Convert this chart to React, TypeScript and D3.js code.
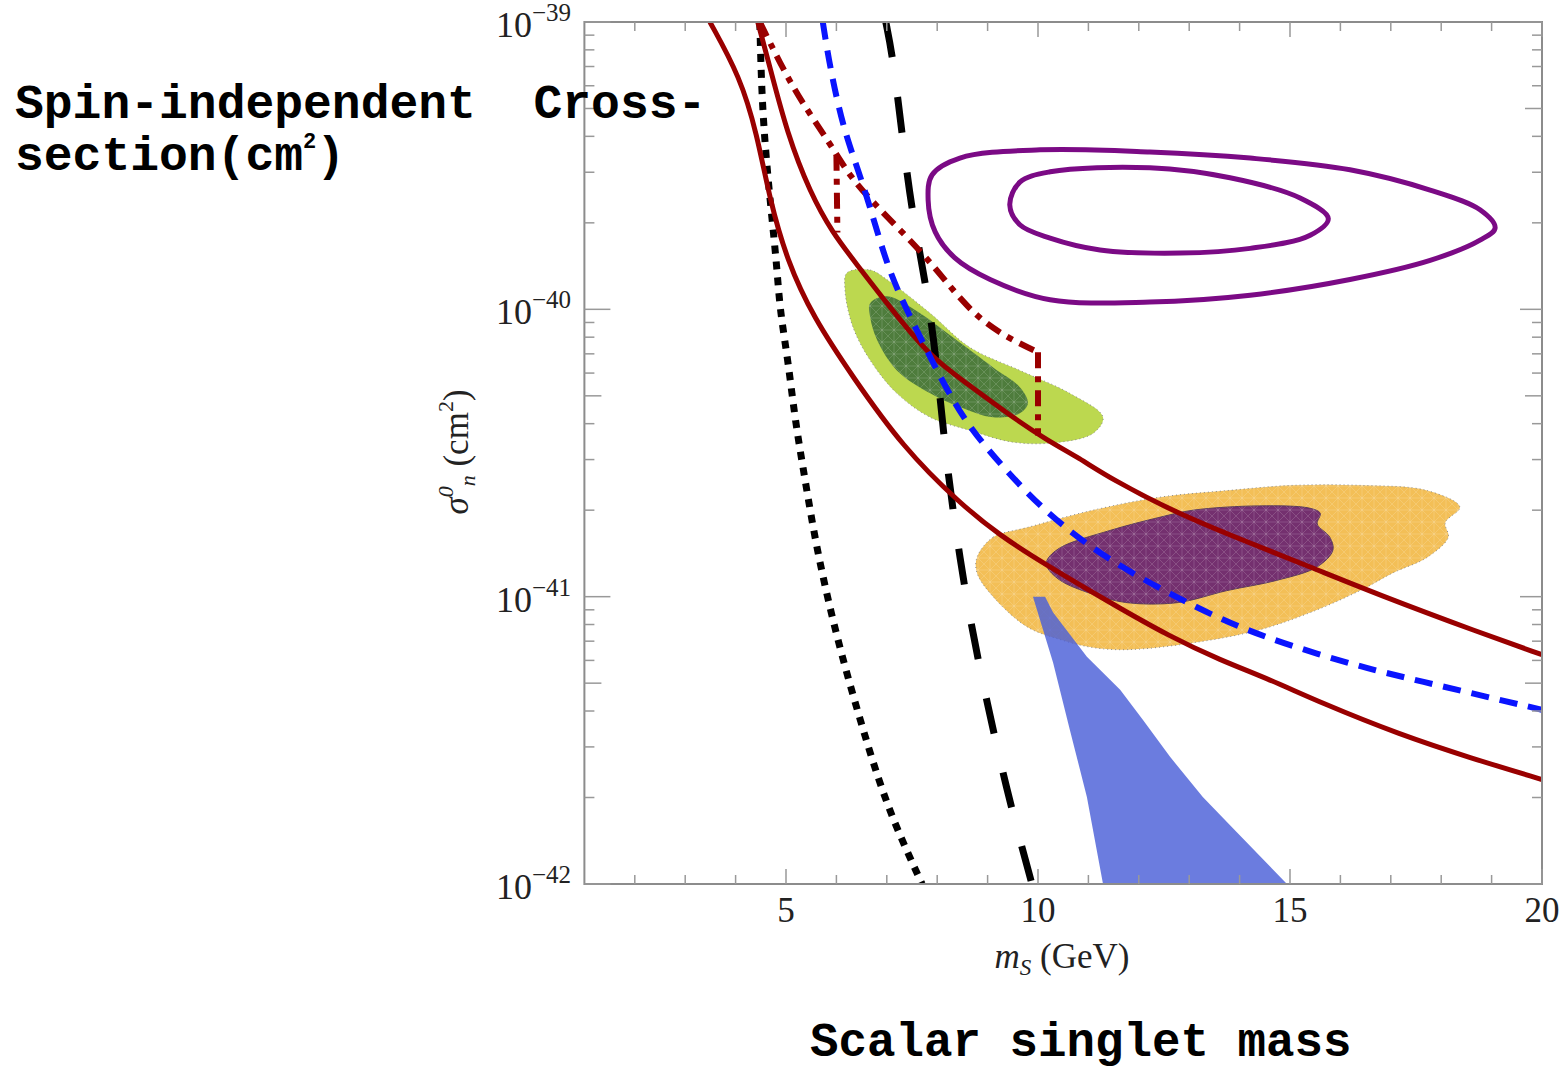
import * as d3 from "d3";

type Pt = [number, number];

// m_S (GeV), sigma_n (cm^2)
const dotted: Pt[] = [
  [4.48, 1.0e-39], [4.52, 5.36e-40], [4.62, 3.13e-40], [4.72, 2.09e-40], [4.82, 1.4e-40],
  [4.88, 9.9e-41], [5.04, 6.65e-41], [5.18, 4.11e-41], [5.38, 2.54e-41], [5.58, 1.57e-41],
  [5.83, 9.77e-42], [6.13, 6.02e-42], [6.47, 3.73e-42], [6.83, 2.31e-42], [7.2, 1.55e-42],
  [7.7, 1.0e-42],
];

const redLow: Pt[] = [
  [3.49, 1.0e-39], [4.09, 6.44e-40], [4.42, 4.11e-40], [4.68, 2.4e-40], [5.02, 1.48e-40],
  [5.54, 9.38e-41], [6.33, 5.8e-41], [7.32, 3.31e-41], [8.45, 2.11e-41], [9.25, 1.63e-41],
  [10.1, 1.31e-41], [11.43, 9.53e-42], [12.62, 7.26e-42], [13.61, 6.02e-42], [14.6, 5.15e-42],
  [15.6, 4.28e-42], [17.18, 3.31e-42], [18.57, 2.75e-42], [20.0, 2.31e-42],
];

const redHigh: Pt[] = [
  [4.44, 1.0e-39], [4.68, 6.98e-40], [5.02, 4.11e-40], [5.48, 2.54e-40], [5.93, 1.84e-40],
  [6.37, 1.46e-40], [7.0, 1.05e-40], [7.86, 6.81e-41], [8.59, 5.53e-41], [9.38, 4.35e-41],
  [10.18, 3.5e-41], [10.83, 3.03e-41], [11.43, 2.58e-41], [12.76, 1.95e-41], [14.07, 1.57e-41],
  [15.4, 1.27e-41], [16.73, 1.02e-41], [18.77, 7.49e-42], [20.0, 6.28e-42],
];

const dashDot: Pt[] = [
  [4.48, 1.0e-39], [4.88, 7.2e-40], [5.28, 5.36e-40], [5.87, 3.79e-40], [6.27, 2.89e-40],
  [6.81, 2.27e-40], [7.72, 1.57e-40], [8.25, 1.2e-40], [8.79, 9.38e-41], [9.38, 7.99e-41],
  [10.0, 7.09e-41],
];
const dashDotDrop: Pt[] = [[10.0, 7.09e-41], [10.0, 3.64e-41]];
const dashDotSpike: Pt[] = [[6.0, 3.45e-40], [6.02, 1.85e-40]];

const blueDashed: Pt[] = [
  [5.73, 1.0e-39], [5.87, 6.98e-40], [6.13, 4.31e-40], [6.41, 3.13e-40], [6.67, 2.27e-40],
  [7.02, 1.39e-40], [7.4, 9.9e-41], [7.86, 6.81e-41], [8.51, 4.11e-41], [9.31, 2.82e-41],
  [10.1, 2.0e-41], [11.29, 1.37e-41], [12.82, 9.77e-42], [13.95, 7.86e-42], [15.06, 6.7e-42],
  [16.39, 5.71e-42], [17.38, 5.18e-42], [20.0, 4.04e-42],
];

const blackDashed: Pt[] = [
  [6.98, 1.0e-39], [7.12, 7.56e-40], [7.3, 4.11e-40], [7.5, 2.16e-40], [7.8, 1.17e-40],
  [8.0, 6.28e-41], [8.15, 3.36e-41], [8.31, 2.0e-41], [8.55, 1.05e-41], [8.81, 6.02e-42],
  [9.15, 3.18e-42], [9.48, 1.81e-42], [9.88, 1.0e-42],
];

const purpleOuter: Pt[] = [
  [7.82, 2.4e-40], [7.9, 2.94e-40], [8.45, 3.36e-40], [10.04, 3.59e-40], [12.22, 3.53e-40],
  [14.21, 3.36e-40], [16.19, 3.06e-40], [17.78, 2.6e-40], [18.77, 2.22e-40], [19.07, 1.92e-40],
  [18.77, 1.74e-40], [17.78, 1.48e-40], [16.19, 1.27e-40], [14.21, 1.12e-40], [12.22, 1.06e-40],
  [10.24, 1.08e-40], [9.05, 1.27e-40], [8.35, 1.51e-40], [7.96, 1.86e-40],
];

const purpleInner: Pt[] = [
  [9.44, 2.31e-40], [9.64, 2.77e-40], [10.24, 3.01e-40], [12.22, 3.11e-40], [13.81, 2.87e-40],
  [15.2, 2.44e-40], [15.76, 2.07e-40], [15.4, 1.81e-40], [14.21, 1.63e-40], [12.82, 1.57e-40],
  [11.23, 1.61e-40], [10.24, 1.77e-40], [9.64, 1.97e-40],
];

const greenLight: Pt[] = [
  [6.21, 1.34e-40], [6.67, 1.37e-40], [7.0, 1.27e-40], [7.86, 9.69e-41], [8.65, 7.37e-41],
  [9.64, 6.13e-41], [10.63, 5.1e-41], [11.29, 4.21e-41], [11.09, 3.7e-41], [10.3, 3.43e-41],
  [9.5, 3.45e-41], [8.65, 3.79e-41], [7.86, 4.21e-41], [7.2, 5.1e-41], [6.67, 6.65e-41],
  [6.33, 8.66e-41], [6.17, 1.17e-40],
];

const greenDark: Pt[] = [
  [6.67, 1.05e-40], [7.0, 1.11e-40], [7.66, 9.69e-41], [8.31, 7.99e-41], [9.11, 6.28e-41],
  [9.64, 5.36e-41], [9.8, 4.71e-41], [9.64, 4.35e-41], [9.11, 4.21e-41], [8.45, 4.57e-41],
  [7.86, 5.1e-41], [7.2, 6.13e-41], [6.81, 7.8e-41], [6.67, 9.38e-41],
];

const orange: Pt[] = [
  [8.79, 1.37e-41], [9.11, 1.61e-41], [9.78, 1.74e-41], [11.09, 2.0e-41], [12.42, 2.22e-41],
  [13.75, 2.34e-41], [15.06, 2.44e-41], [16.39, 2.44e-41], [17.72, 2.34e-41], [18.37, 2.05e-41],
  [18.08, 1.81e-41], [18.14, 1.61e-41], [17.72, 1.37e-41], [17.04, 1.21e-41], [16.39, 1.05e-41],
  [15.4, 8.8e-42], [14.4, 7.67e-42], [13.08, 6.91e-42], [11.77, 6.54e-42], [11.09, 6.65e-42],
  [10.44, 7.09e-42], [9.78, 7.86e-42], [9.11, 1.0e-41], [8.79, 1.21e-41],
];

const purpleFill: Pt[] = [
  [10.18, 1.34e-41], [10.44, 1.48e-41], [11.43, 1.7e-41], [12.42, 1.89e-41], [13.08, 2.0e-41],
  [14.4, 2.07e-41], [15.4, 2.03e-41], [15.6, 1.95e-41], [15.54, 1.79e-41], [15.79, 1.61e-41],
  [15.85, 1.45e-41], [15.54, 1.27e-41], [14.74, 1.14e-41], [13.75, 1.05e-41], [12.76, 9.53e-42],
  [11.77, 9.53e-42], [11.09, 1.02e-41], [10.44, 1.14e-41], [10.18, 1.27e-41],
];

const blueRegion: Pt[] = [
  [9.9, 1.0e-41], [10.14, 1.0e-41], [10.3, 8.8e-42], [10.97, 6.18e-42], [11.63, 4.74e-42],
  [12.08, 3.73e-42], [12.62, 2.77e-42], [13.27, 2.01e-42], [13.95, 1.51e-42], [14.94, 1.0e-42],
  [11.29, 1.0e-42], [10.97, 2.01e-42], [10.63, 3.45e-42], [10.3, 5.89e-42],
];

const xMajor = [5, 10, 15, 20];
const xMinor = d3.range(2, 20).filter((v) => v % 5 !== 0);
const yDecades = [1e-42, 1e-41, 1e-40, 1e-39];
const yExpLabels = ["\u221242", "\u221241", "\u221240", "\u221239"];
const yMinorMult = [2, 3, 4, 5, 6, 7, 8, 9];

const W = 1565, H = 1069;
const L = 584.4, R = 1542, T = 22, B = 884;
const serif = "'Liberation Serif', 'DejaVu Serif', serif";
const mono = "'Liberation Mono', 'DejaVu Sans Mono', monospace";

export default function App() {
  const x = d3.scaleLinear().domain([1, 20]).range([L, R]);
  const y = d3.scaleLog().domain([1e-42, 1e-39]).range([B, T]);

  const smooth = d3.line<Pt>().x((d) => x(d[0])).y((d) => y(d[1])).curve(d3.curveBasis);
  const straight = d3.line<Pt>().x((d) => x(d[0])).y((d) => y(d[1]));
  const blob = d3.line<Pt>().x((d) => x(d[0])).y((d) => y(d[1])).curve(d3.curveCatmullRomClosed.alpha(0.5));
  const poly = d3.line<Pt>().x((d) => x(d[0])).y((d) => y(d[1])).curve(d3.curveLinearClosed);

  const yMinor: { v: number; mid: boolean }[] = [];
  yDecades.slice(0, 3).forEach((d) => yMinorMult.forEach((m) => yMinor.push({ v: d * m, mid: m === 5 })));

  const red = "#990000";
  const tickCol = "#999";

  return (
    <svg width={W} height={H} style={{ position: "absolute", left: 0, top: 0, background: "#fff" }}>
      <defs>
        <clipPath id="plot">
          <rect x={L} y={T} width={R - L} height={B - T} />
        </clipPath>
        <pattern id="mesh" width={12} height={12} patternUnits="userSpaceOnUse">
          <path d="M0 0L12 12M12 0L0 12M6 0V12M0 6H12" stroke="#fff" strokeWidth={0.6} strokeOpacity={0.25} />
        </pattern>
      </defs>

      <g clipPath="url(#plot)">
        {/* regions */}
        <path d={blob(orange) ?? ""} fill="#f3bf57" stroke="#8a8a8a" strokeWidth={1} strokeDasharray="1 3" />
        <path d={blob(orange) ?? ""} fill="url(#mesh)" />
        <path d={blob(purpleFill) ?? ""} fill="#74306f" stroke="#5a3a5a" strokeWidth={1} />
        <path d={blob(purpleFill) ?? ""} fill="url(#mesh)" />
        <path d={poly(blueRegion) ?? ""} fill="#4a5fd8" fillOpacity={0.82} />
        <path d={blob(greenLight) ?? ""} fill="#bcd84f" stroke="#8a8a8a" strokeWidth={1} strokeDasharray="1 3" />
        <path d={blob(greenDark) ?? ""} fill="#4e7c3c" />
        <path d={blob(greenDark) ?? ""} fill="url(#mesh)" />

        {/* purple contours */}
        <path d={blob(purpleOuter) ?? ""} fill="none" stroke="#7b0a85" strokeWidth={5} />
        <path d={blob(purpleInner) ?? ""} fill="none" stroke="#7b0a85" strokeWidth={5} />

        {/* curves */}
        <path d={smooth(dotted) ?? ""} fill="none" stroke="#000" strokeWidth={7} strokeDasharray="8 8" />
        <path d={smooth(blackDashed) ?? ""} fill="none" stroke="#000" strokeWidth={7} strokeDasharray="36 40" />
        <path d={smooth(redLow) ?? ""} fill="none" stroke={red} strokeWidth={5} />
        <path d={smooth(redHigh) ?? ""} fill="none" stroke={red} strokeWidth={5} />
        <path d={smooth(dashDot) ?? ""} fill="none" stroke={red} strokeWidth={6} strokeDasharray="16 8 6 8" />
        <path d={straight(dashDotDrop) ?? ""} fill="none" stroke={red} strokeWidth={6} strokeDasharray="16 8 6 8" />
        <path d={straight(dashDotSpike) ?? ""} fill="none" stroke={red} strokeWidth={6} strokeDasharray="16 8 6 8" />
        <path d={smooth(blueDashed) ?? ""} fill="none" stroke="#0a14ff" strokeWidth={6} strokeDasharray="18 11" />
      </g>

      {/* frame */}
      <rect x={L} y={T} width={R - L} height={B - T} fill="none" stroke="#8c8c8c" strokeWidth={2} />

      {/* x ticks */}
      {xMinor.map((v) => (
        <g key={"xm" + v} stroke={tickCol} strokeWidth={1.5}>
          <line x1={x(v)} x2={x(v)} y1={B} y2={B - 9} />
          <line x1={x(v)} x2={x(v)} y1={T} y2={T + 9} />
        </g>
      ))}
      {xMajor.map((v) => (
        <g key={"xM" + v}>
          <line x1={x(v)} x2={x(v)} y1={B} y2={B - 15} stroke={tickCol} strokeWidth={1.5} />
          <line x1={x(v)} x2={x(v)} y1={T} y2={T + 15} stroke={tickCol} strokeWidth={1.5} />
          <text x={x(v)} y={922} textAnchor="middle" fontFamily={serif} fontSize={35} fill="#222">
            {v}
          </text>
        </g>
      ))}

      {/* y ticks */}
      {yMinor.map(({ v, mid }, i) => {
        const len = mid ? 17 : 10;
        return (
          <g key={"ym" + i} stroke={tickCol} strokeWidth={1.5}>
            <line x1={L} x2={L + len} y1={y(v)} y2={y(v)} />
            <line x1={R} x2={R - len} y1={y(v)} y2={y(v)} />
          </g>
        );
      })}
      {yDecades.map((v, i) => (
        <g key={"yM" + i}>
          <line x1={L} x2={L + 26} y1={y(v)} y2={y(v)} stroke={tickCol} strokeWidth={1.5} />
          <line x1={R} x2={R - 22} y1={y(v)} y2={y(v)} stroke={tickCol} strokeWidth={1.5} />
          <text x={571} y={y(v) + 15} textAnchor="end" fontFamily={serif} fill="#222">
            <tspan fontSize={36}>10</tspan>
            <tspan fontSize={25} dy={-16}>{yExpLabels[i]}</tspan>
          </text>
        </g>
      ))}

      {/* axis labels */}
      <text x={1062} y={968} textAnchor="middle" fontFamily={serif} fontSize={35} fill="#222">
        <tspan fontStyle="italic">m</tspan>
        <tspan fontStyle="italic" fontSize={23} dy={7}>S</tspan>
        <tspan dy={-7}> (GeV)</tspan>
      </text>
      <text
        transform="translate(468,452) rotate(-90)"
        textAnchor="middle"
        fontFamily={serif}
        fontSize={35}
        fill="#222"
      >
        <tspan fontStyle="italic">σ</tspan>
        <tspan fontStyle="italic" fontSize={22} dy={-15}>0</tspan>
        <tspan fontStyle="italic" fontSize={22} dy={22}>n</tspan>
        <tspan dy={-7}> (cm</tspan>
        <tspan fontSize={22} dy={-15}>2</tspan>
        <tspan dy={15}>)</tspan>
      </text>

      {/* annotations */}
      <text x={15} y={118} fontFamily={mono} fontWeight="bold" fontSize={48} fill="#000" style={{ whiteSpace: "pre" }}>
        {"Spin-independent  Cross-"}
      </text>
      <text x={15} y={170} fontFamily={mono} fontWeight="bold" fontSize={48} fill="#000">
        <tspan>section(cm</tspan>
        <tspan fontSize={22} dy={-22}>2</tspan>
        <tspan dy={22}>)</tspan>
      </text>
      <text x={810} y={1056} fontFamily={mono} fontWeight="bold" fontSize={47.5} fill="#000">
        Scalar singlet mass
      </text>
    </svg>
  );
}
